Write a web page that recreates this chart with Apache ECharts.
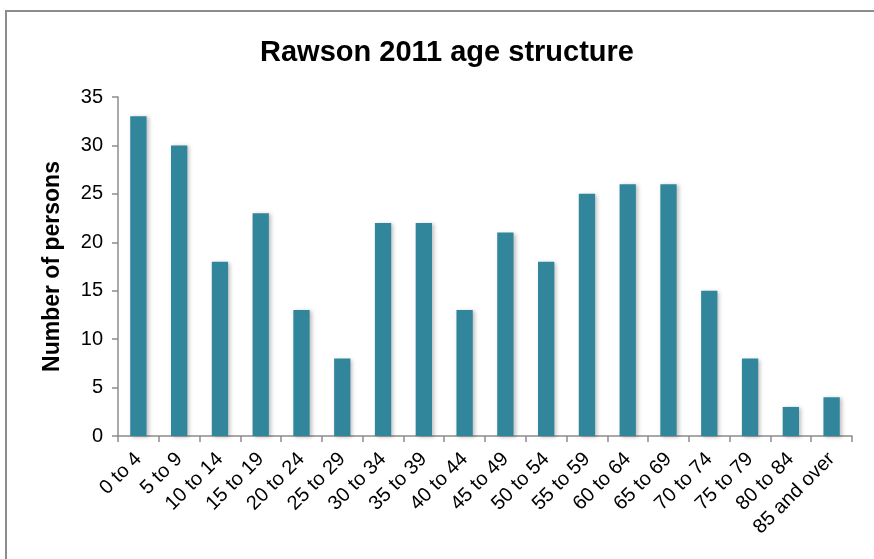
<!DOCTYPE html>
<html>
<head>
<meta charset="utf-8">
<script src="https://cdn.jsdelivr.net/npm/echarts@6/dist/echarts.min.js"></script>
<style>
  html, body { margin: 0; padding: 0; background: #fff; }
  #frame { position: absolute; left: 5px; top: 10px; width: 880px; height: 560px;
           border-left: 2px solid #8c8c8c; border-top: 2px solid #8c8c8c; box-sizing: border-box; }
  #chart { position: absolute; left: 0; top: 0; width: 874px; height: 559px; }
</style>
</head>
<body>
<div id="frame"></div>
<div id="chart"></div>
<script>
// Age groups and number of persons per group
const ageGroups = ['0 to 4', '5 to 9', '10 to 14', '15 to 19', '20 to 24', '25 to 29',
  '30 to 34', '35 to 39', '40 to 44', '45 to 49', '50 to 54', '55 to 59',
  '60 to 64', '65 to 69', '70 to 74', '75 to 79', '80 to 84', '85 and over'];
const persons = [33, 30, 18, 23, 13, 8, 22, 22, 13, 21, 18, 25, 26, 26, 15, 8, 3, 4];
const yTicks = { min: 0, max: 35, step: 5 };

const chart = echarts.init(document.getElementById('chart'));
chart.setOption({
  animation: false,
  title: {
    text: 'Rawson 2011 age structure',
    left: 442, top: 33, textAlign: 'center',
    textStyle: { fontFamily: 'Liberation Sans', fontSize: 29, fontWeight: 'bold', color: '#000' }
  },
  grid: { left: 118, right: 22, top: 97, bottom: 123, containLabel: false },
  xAxis: {
    type: 'category',
    data: ageGroups,
    axisLine: { lineStyle: { color: '#8c8c8c', width: 1.5 } },
    axisTick: { show: true, length: 6, lineStyle: { color: '#8c8c8c', width: 1.5 } },
    axisLabel: { rotate: 45, color: '#000', fontFamily: 'Liberation Sans', fontSize: 20, margin: 20, interval: 0 }
  },
  yAxis: {
    type: 'value',
    min: yTicks.min, max: yTicks.max, interval: yTicks.step,
    name: 'Number of persons',
    nameLocation: 'middle', nameGap: 54, nameRotate: 90,
    nameTextStyle: { fontFamily: 'Liberation Sans', fontSize: 23, fontWeight: 'bold', color: '#000' },
    axisLine: { show: true, lineStyle: { color: '#8c8c8c', width: 1.5 } },
    axisTick: { show: true, length: 6, lineStyle: { color: '#8c8c8c', width: 1.5 } },
    splitLine: { show: false },
    axisLabel: { color: '#000', fontFamily: 'Liberation Sans', fontSize: 20, margin: 15 }
  },
  series: [{
    type: 'bar',
    data: persons,
    barWidth: '40%',
    itemStyle: {
      color: '#31869b',
      shadowColor: 'rgba(0,0,0,0.25)', shadowBlur: 4, shadowOffsetX: 2, shadowOffsetY: 1
    }
  }]
});
</script>
</body>
</html>
